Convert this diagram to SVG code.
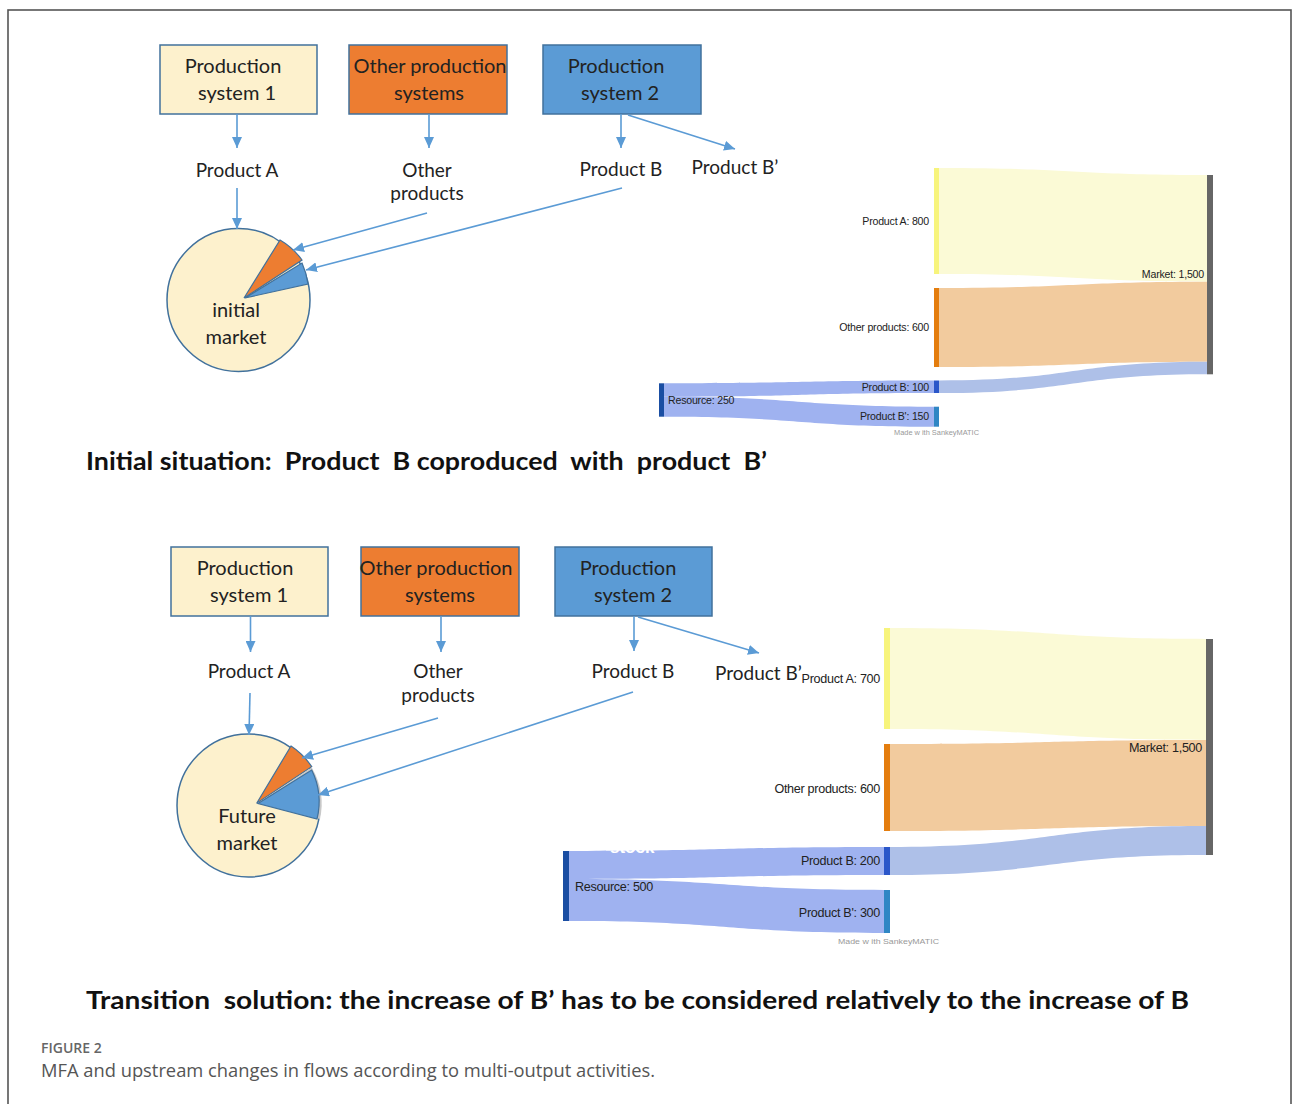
<svg xmlns="http://www.w3.org/2000/svg" width="1293" height="1104" viewBox="0 0 1293 1104">
<style>
.box{stroke:#41719c;stroke-width:1.5}
.pA{fill:#fdf1cd}.pO{fill:#ed7d31}.pB{fill:#5b9bd5}
.bt{font-family:Lato,"Liberation Sans",sans-serif;font-size:20px;fill:#222;text-anchor:middle}
.lb{font-family:Lato,"Liberation Sans",sans-serif;font-size:19px;fill:#222;text-anchor:middle}
.con{stroke:#5b9bd5;stroke-width:1.6;fill:none}
.ttl{font-family:Lato,"Liberation Sans",sans-serif;font-weight:bold;font-size:25px;fill:#111;white-space:pre}
.sl{font-family:"Liberation Sans",Arial,sans-serif;font-size:10.6px;fill:#222;text-anchor:end;letter-spacing:-0.2px}
.sl2{font-family:"Liberation Sans",Arial,sans-serif;font-size:12.6px;fill:#222;text-anchor:end;letter-spacing:-0.3px}
.mw{font-family:"Liberation Sans",Arial,sans-serif;font-size:7px;fill:#999}
.slice{stroke:#41719c;stroke-width:1.2}
</style>
<defs>
<marker id="ah" markerUnits="userSpaceOnUse" markerWidth="11" markerHeight="10" refX="11" refY="5" orient="auto">
<path d="M0,0 L11,5 L0,10 z" fill="#5b9bd5"/>
</marker>
</defs>
<rect x="0" y="0" width="1293" height="1104" fill="#fff"/>
<rect x="8" y="10" width="1283" height="1120" fill="none" stroke="#555" stroke-width="1.6"/>

<!-- TOP SECTION -->
<g id="top-ps1"><rect class="box pA" x="160" y="45" width="157" height="69"/><text class="bt" x="233" y="73">Production</text><text class="bt" x="237" y="100">system 1</text></g>
<g id="top-ops"><rect class="box pO" x="349" y="45" width="158" height="69"/><text class="bt" x="430" y="73">Other production</text><text class="bt" x="429" y="100">systems</text></g>
<g id="top-ps2"><rect class="box pB" x="543" y="45" width="158" height="69"/><text class="bt" x="616" y="73">Production</text><text class="bt" x="620" y="100">system 2</text></g>
<g id="top-pa"><text class="lb" x="237" y="177">Product A</text></g>
<g id="top-op"><text class="lb" x="427" y="177">Other</text><text class="lb" x="427" y="200">products</text></g>
<g id="top-pb"><text class="lb" x="621" y="176">Product B</text></g>
<g id="top-pb2"><text class="lb" x="735" y="174">Product B’</text></g>
<g id="top-pie">
<circle cx="238.5" cy="300" r="71.5" fill="#fdf1cd" stroke="#41719c" stroke-width="1.5"/>
<path class="slice" d="M244,298 L280,240 A72,72 0 0 1 302,260 Z" fill="#ed7d31"/>
<path class="slice" d="M245,298 L302,263 A72,72 0 0 1 308,284 Z" fill="#5b9bd5"/>
<text class="bt" x="236" y="317">initial</text><text class="bt" x="236" y="344">market</text>
</g>
<g id="top-connectors">
<line class="con" x1="237" y1="114" x2="237" y2="148" marker-end="url(#ah)"/>
<line class="con" x1="429" y1="114" x2="429" y2="148" marker-end="url(#ah)"/>
<line class="con" x1="621" y1="114" x2="621" y2="148" marker-end="url(#ah)"/>
<line class="con" x1="628" y1="115" x2="735" y2="149" marker-end="url(#ah)"/>
<line class="con" x1="237" y1="188" x2="237" y2="229" marker-end="url(#ah)"/>
<line class="con" x1="427" y1="213" x2="293" y2="250" marker-end="url(#ah)"/>
<line class="con" x1="622" y1="188" x2="306" y2="270" marker-end="url(#ah)"/>
</g>

<!-- TOP SANKEY -->
<g id="top-sankey-flows">
<path d="M939,168 C1073,168 1073,175 1207,175 L1207,281.7 C1073,281.7 1073,274 939,274 Z" fill="#fbfad6"/>
<path d="M939,288 C1073,288 1073,281.7 1207,281.7 L1207,361.7 C1073,361.7 1073,367 939,367 Z" fill="#f2cb9e"/>
<path d="M939,380.5 C1073,380.5 1073,361.7 1207,361.7 L1207,374.3 C1073,374.3 1073,393 939,393 Z" fill="#aec0e8"/>
<path d="M664,383.3 C799,383.3 799,380.5 934,380.5 L934,393 C799,393 799,396.8 664,396.8 Z" fill="#9fb2f0"/>
<path d="M664,396.8 C799,396.8 799,406.7 934,406.7 L934,426.7 C799,426.7 799,416.7 664,416.7 Z" fill="#9fb2f0"/>
</g>
<g id="top-s-pa"><rect x="934" y="168" width="5" height="106" fill="#f7f47c"/><text class="sl" x="929" y="225">Product A: 800</text></g>
<g id="top-s-op"><rect x="934" y="288" width="5" height="79" fill="#e47d0e"/><text class="sl" x="929" y="331">Other products: 600</text></g>
<g id="top-s-pb"><rect x="934" y="380.5" width="5" height="12.5" fill="#2a56c9"/><text class="sl" x="929" y="390.5">Product B: 100</text></g>
<g id="top-s-pb2"><rect x="934" y="406.7" width="5" height="20" fill="#2f86c4"/><text class="sl" x="929" y="420">Product B': 150</text></g>
<g id="top-s-res"><rect x="659" y="383.3" width="5" height="33.4" fill="#1a4ea3"/><text class="sl" x="668" y="403.5" style="text-anchor:start">Resource: 250</text></g>
<g id="top-s-mkt"><rect x="1207" y="175" width="6" height="199.3" fill="#666"/><text class="sl" x="1204" y="278">Market: 1,500</text></g>
<text class="mw" x="894" y="435" textLength="85" lengthAdjust="spacingAndGlyphs">Made w ith SankeyMATIC</text>

<text class="ttl" x="86" y="470" textLength="681" lengthAdjust="spacingAndGlyphs">Initial situation:  Product  B coproduced  with  product  B’</text>

<!-- BOTTOM SECTION -->
<g id="bot-ps1"><rect class="box pA" x="171" y="547" width="157" height="69"/><text class="bt" x="245" y="575">Production</text><text class="bt" x="249" y="602">system 1</text></g>
<g id="bot-ops"><rect class="box pO" x="361" y="547" width="158" height="69"/><text class="bt" x="436" y="575">Other production</text><text class="bt" x="440" y="602">systems</text></g>
<g id="bot-ps2"><rect class="box pB" x="555" y="547" width="157" height="69"/><text class="bt" x="628" y="575">Production</text><text class="bt" x="633" y="602">system 2</text></g>
<g id="bot-pa"><text class="lb" x="249" y="678">Product A</text></g>
<g id="bot-op"><text class="lb" x="438" y="678">Other</text><text class="lb" x="438" y="702">products</text></g>
<g id="bot-pb"><text class="lb" x="633" y="678">Product B</text></g>
<g id="bot-pb2"><text class="lb" x="715" y="680" style="text-anchor:start">Product B’</text></g>
<g id="bot-pie">
<circle cx="248.5" cy="805.5" r="71.5" fill="#fdf1cd" stroke="#41719c" stroke-width="1.5"/>
<path class="slice" d="M256.7,803.3 L291,746 A72,72 0 0 1 311.7,766.7 Z" fill="#ed7d31"/>
<path d="M257.5,803.3 L311.7,767.5 A72,72 0 0 1 320,819 Z" fill="#c8c8c8"/>
<path class="slice" d="M258,803.5 L311.7,770 A72,72 0 0 1 317,819 Z" fill="#5b9bd5"/>
<text class="bt" x="247" y="823">Future</text><text class="bt" x="247" y="850">market</text>
</g>
<g id="bot-connectors">
<line class="con" x1="250.5" y1="616" x2="250.5" y2="652" marker-end="url(#ah)"/>
<line class="con" x1="441" y1="616" x2="441" y2="652" marker-end="url(#ah)"/>
<line class="con" x1="634" y1="616" x2="634" y2="651" marker-end="url(#ah)"/>
<line class="con" x1="638" y1="617" x2="759" y2="653" marker-end="url(#ah)"/>
<line class="con" x1="250" y1="693" x2="249" y2="735" marker-end="url(#ah)"/>
<line class="con" x1="438" y1="718" x2="302" y2="758" marker-end="url(#ah)"/>
<line class="con" x1="633" y1="692" x2="318" y2="795" marker-end="url(#ah)"/>
</g>

<!-- BOTTOM SANKEY -->
<g id="bot-sankey-flows">
<path d="M890,628 C1048,628 1048,639 1206,639 L1206,740 C1048,740 1048,729 890,729 Z" fill="#fbfad6"/>
<path d="M890,744 C1048,744 1048,740 1206,740 L1206,826 C1048,826 1048,831 890,831 Z" fill="#f2cb9e"/>
<path d="M890,847 C1048,847 1048,826 1206,826 L1206,855 C1048,855 1048,875 890,875 Z" fill="#aec0e8"/>
<path d="M569,851 C726,851 726,847 884,847 L884,875 C726,875 726,879 569,879 Z" fill="#9fb2f0"/>
<path d="M569,879 C726,879 726,890 884,890 L884,933 C726,933 726,921 569,921 Z" fill="#9fb2f0"/>
</g>
<text x="610" y="853" font-family="'Liberation Sans',Arial,sans-serif" font-size="17" font-weight="bold" fill="#fff">stock</text>
<g id="bot-s-pa"><rect x="884" y="628" width="6" height="101" fill="#f7f47c"/><text class="sl2" x="880" y="683">Product A: 700</text></g>
<g id="bot-s-op"><rect x="884" y="744" width="6" height="87" fill="#e47d0e"/><text class="sl2" x="880" y="792.5">Other products: 600</text></g>
<g id="bot-s-pb"><rect x="884" y="847" width="6" height="28" fill="#2a56c9"/><text class="sl2" x="880" y="865">Product B: 200</text></g>
<g id="bot-s-pb2"><rect x="884" y="890" width="6" height="43" fill="#2f86c4"/><text class="sl2" x="880" y="916.5">Product B': 300</text></g>
<g id="bot-s-res"><rect x="563" y="851" width="6" height="70" fill="#1a4ea3"/><text class="sl2" x="575" y="890.5" style="text-anchor:start">Resource: 500</text></g>
<g id="bot-s-mkt"><rect x="1206" y="639" width="7" height="216" fill="#666"/><text class="sl2" x="1202" y="751.5">Market: 1,500</text></g>
<text class="mw" x="838" y="944" textLength="101" lengthAdjust="spacingAndGlyphs">Made w ith SankeyMATIC</text>

<text class="ttl" x="86" y="1009" textLength="1103" lengthAdjust="spacingAndGlyphs">Transition  solution: the increase of B’ has to be considered relatively to the increase of B</text>

<text x="41" y="1053" font-family="'Open Sans','Noto Sans',sans-serif" font-size="14" font-weight="600" fill="#666">FIGURE 2</text>
<text x="41" y="1077" font-family="'Open Sans','Noto Sans',sans-serif" font-size="17.5" fill="#555" textLength="614" lengthAdjust="spacingAndGlyphs">MFA and upstream changes in flows according to multi-output activities.</text>
</svg>
